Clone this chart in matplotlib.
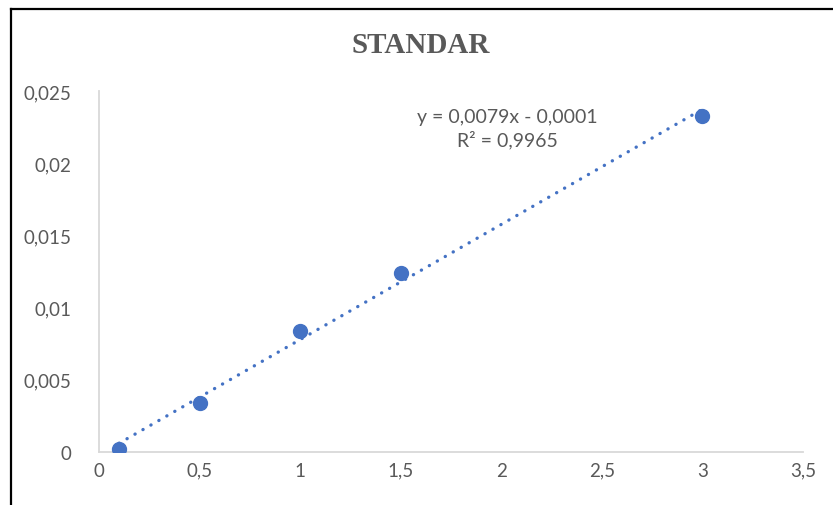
import matplotlib
matplotlib.use("Agg")
import matplotlib.pyplot as plt
from matplotlib.lines import Line2D
from matplotlib.ticker import FuncFormatter, MultipleLocator
import numpy as np

plt.rcParams['font.family'] = ['Lato', 'DejaVu Sans']

# data
konsentrasi = [0.1, 0.5, 1.0, 1.5, 3.0]
absorbansi = [0.0002, 0.0034, 0.0084, 0.0124, 0.0233]
title = 'STANDAR'
equation = 'y = 0,0079x - 0,0001\nR² = 0,9965'

blue = '#4472C4'
grey_txt = '#595959'
grey_line = '#D9D9D9'

fig = plt.figure(figsize=(8.33, 5.06), dpi=100)
ax = fig.add_axes([0.1188, 0.1047, 0.845, 0.7133])

# trendline from a linear fit
k, b = np.polyfit(konsentrasi, absorbansi, 1)
xs = np.array([konsentrasi[0], konsentrasi[-1]])
ax.plot(xs, k * xs + b, linestyle=(0, (0.05, 2.7)), color=blue,
        linewidth=2.4, dash_capstyle='round', zorder=2)
ax.plot(konsentrasi, absorbansi, 'o', color=blue, markersize=10, zorder=3)

ax.set_xlim(0, 3.5)
ax.set_ylim(0, 0.025)
ax.xaxis.set_major_locator(MultipleLocator(0.5))
ax.yaxis.set_major_locator(MultipleLocator(0.005))
fmt = FuncFormatter(lambda v, p: '{:g}'.format(round(v, 4)).replace('.', ','))
ax.xaxis.set_major_formatter(fmt)
ax.yaxis.set_major_formatter(fmt)
ax.tick_params(axis='both', length=0, labelsize=13.5, colors=grey_txt)
ax.tick_params(axis='y', pad=20)
ax.tick_params(axis='x', pad=7)

for s in ['top', 'right']:
    ax.spines[s].set_visible(False)
for s in ['left', 'bottom']:
    ax.spines[s].set_color(grey_line)
    ax.spines[s].set_linewidth(1.3)

ax.text(2.03, 0.02245, equation, ha='center', va='center', fontsize=14,
        color=grey_txt, linespacing=1.3)

fig.text(0.505, 0.91, title, ha='center', va='center', fontsize=21,
         fontweight='bold', color=grey_txt, family='Liberation Serif')

# black frame of the cropped screenshot
fig.add_artist(Line2D([0.0132, 1.0], [0.980, 0.980], color='black', linewidth=1.6))
fig.add_artist(Line2D([0.0132, 0.0132], [0.0, 0.980], color='black', linewidth=1.6))

fig.savefig('out.png', dpi=100)
